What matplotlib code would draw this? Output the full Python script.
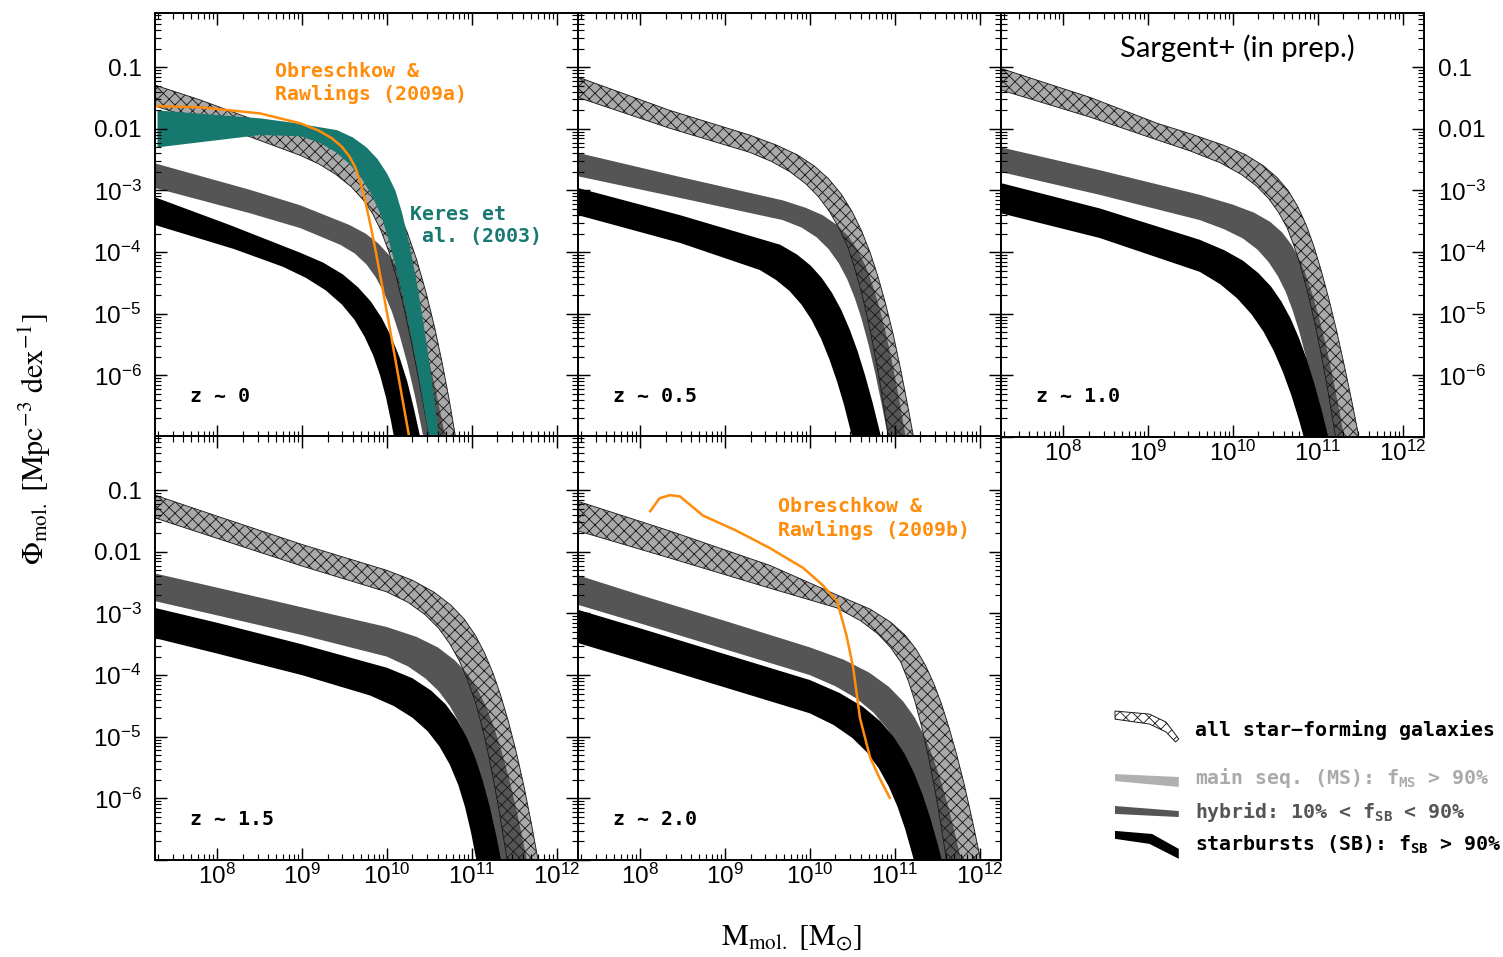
import numpy as np
import matplotlib
matplotlib.use("Agg")
import matplotlib.pyplot as plt
from matplotlib.ticker import LogLocator, NullFormatter
from matplotlib.legend_handler import HandlerBase
from matplotlib.patches import Polygon, Patch
from matplotlib.font_manager import FontProperties

# ---------------------------------------------------------------------------
# Molecular gas mass functions (log10 M_mol [Msun], log10 Phi [Mpc^-3 dex^-1])
# Each band is given by its upper ("hi") and lower ("lo") envelope.
# ---------------------------------------------------------------------------
redshift_labels = ["z ~ 0", "z ~ 0.5", "z ~ 1.0", "z ~ 1.5", "z ~ 2.0"]

# z ~ 0
sf_z00_hi_m = [7.27, 7.80, 8.39, 8.98, 9.30, 9.55, 9.75, 9.90, 10.02, 10.13, 10.24, 10.35, 10.46, 10.56, 10.65, 10.73, 10.81]
sf_z00_hi_phi = [-1.29, -1.53, -1.83, -2.10, -2.26, -2.42, -2.62, -2.83, -3.06, -3.33, -3.68, -4.12, -4.65, -5.21, -5.79, -6.37, -7.01]
sf_z00_lo_m = [7.27, 7.80, 8.39, 8.98, 9.20, 9.40, 9.58, 9.72, 9.83, 9.93, 10.02, 10.11, 10.20, 10.29, 10.38, 10.46, 10.50]
sf_z00_lo_phi = [-1.63, -1.86, -2.13, -2.43, -2.57, -2.74, -2.94, -3.15, -3.37, -3.65, -3.98, -4.40, -4.90, -5.47, -6.10, -6.70, -7.00]
hy_z00_hi_m = [7.27, 8.39, 8.98, 9.56, 9.75, 9.90, 10.02, 10.12, 10.22, 10.31, 10.40, 10.49, 10.58, 10.67, 10.69]
hy_z00_hi_phi = [-2.56, -2.99, -3.24, -3.56, -3.70, -3.86, -4.04, -4.25, -4.53, -4.86, -5.26, -5.73, -6.27, -6.88, -7.02]
hy_z00_lo_m = [7.27, 8.39, 8.98, 9.45, 9.62, 9.76, 9.87, 9.97, 10.06, 10.15, 10.24, 10.33, 10.43]
hy_z00_lo_phi = [-2.96, -3.37, -3.61, -3.88, -4.02, -4.20, -4.41, -4.67, -4.97, -5.35, -5.80, -6.33, -7.00]
sb_z00_hi_m = [7.27, 8.15, 8.98, 9.25, 9.48, 9.66, 9.81, 9.94, 10.05, 10.15, 10.24, 10.32, 10.40]
sb_z00_hi_phi = [-3.11, -3.56, -4.01, -4.17, -4.36, -4.57, -4.80, -5.07, -5.37, -5.71, -6.10, -6.55, -7.05]
sb_z00_lo_m = [7.27, 8.20, 8.78, 9.05, 9.28, 9.47, 9.62, 9.74, 9.84, 9.92, 9.99, 10.05, 10.09]
sb_z00_lo_phi = [-3.56, -3.95, -4.24, -4.42, -4.62, -4.85, -5.10, -5.38, -5.68, -6.00, -6.36, -6.75, -7.05]

# z ~ 0.5
sf_z05_hi_m = [7.27, 8.35, 9.29, 9.60, 9.85, 10.05, 10.22, 10.37, 10.50, 10.61, 10.71, 10.80, 10.89, 10.98, 11.07, 11.16, 11.22]
sf_z05_hi_phi = [-1.16, -1.70, -2.10, -2.26, -2.42, -2.60, -2.81, -3.06, -3.35, -3.66, -4.01, -4.39, -4.83, -5.33, -5.91, -6.55, -7.00]
sf_z05_lo_m = [7.27, 8.35, 9.29, 9.55, 9.77, 9.95, 10.10, 10.23, 10.35, 10.45, 10.53, 10.61, 10.68, 10.75, 10.82, 10.89, 10.925]
sf_z05_lo_phi = [-1.49, -1.99, -2.38, -2.53, -2.70, -2.89, -3.10, -3.34, -3.63, -3.93, -4.27, -4.67, -5.08, -5.55, -6.08, -6.68, -7.00]
hy_z05_hi_m = [7.27, 8.47, 9.68, 9.95, 10.15, 10.32, 10.45, 10.56, 10.65, 10.73, 10.81, 10.89, 10.97, 11.05, 11.13]
hy_z05_hi_phi = [-2.39, -2.78, -3.16, -3.28, -3.40, -3.56, -3.74, -3.96, -4.21, -4.50, -4.86, -5.29, -5.80, -6.38, -7.02]
hy_z05_lo_m = [7.27, 8.47, 9.68, 9.90, 10.08, 10.22, 10.34, 10.44, 10.53, 10.61, 10.69, 10.77, 10.85, 10.92]
hy_z05_lo_phi = [-2.77, -3.12, -3.48, -3.60, -3.76, -3.95, -4.18, -4.44, -4.75, -5.09, -5.50, -5.97, -6.50, -7.00]
sb_z05_hi_m = [7.27, 8.47, 9.65, 9.85, 10.01, 10.14, 10.26, 10.37, 10.47, 10.56, 10.65, 10.74, 10.84]
sb_z05_hi_phi = [-2.96, -3.40, -3.88, -4.04, -4.22, -4.42, -4.66, -4.94, -5.26, -5.60, -6.00, -6.45, -7.01]
sb_z05_lo_m = [7.27, 8.47, 9.41, 9.60, 9.76, 9.90, 10.02, 10.13, 10.23, 10.32, 10.40, 10.48, 10.50]
sb_z05_lo_phi = [-3.40, -3.85, -4.29, -4.45, -4.63, -4.85, -5.10, -5.40, -5.74, -6.10, -6.47, -6.90, -7.01]

# z ~ 1.0
sf_z10_hi_m = [7.27, 8.32, 9.11, 9.50, 9.88, 10.15, 10.36, 10.52, 10.65, 10.76, 10.86, 10.95, 11.04, 11.13, 11.22, 11.31, 11.40, 11.485]
sf_z10_hi_phi = [-1.02, -1.49, -1.91, -2.08, -2.26, -2.42, -2.60, -2.79, -3.00, -3.25, -3.55, -3.89, -4.30, -4.76, -5.27, -5.83, -6.42, -7.01]
sf_z10_lo_m = [7.27, 8.32, 9.11, 9.50, 9.85, 10.10, 10.28, 10.42, 10.54, 10.64, 10.72, 10.80, 10.88, 10.96, 11.04, 11.12, 11.21]
sf_z10_lo_phi = [-1.37, -1.81, -2.18, -2.36, -2.55, -2.74, -2.93, -3.13, -3.36, -3.61, -3.90, -4.24, -4.65, -5.12, -5.66, -6.26, -7.01]
hy_z10_hi_m = [7.27, 8.43, 9.61, 10.00, 10.25, 10.44, 10.58, 10.69, 10.78, 10.86, 10.94, 11.02, 11.10, 11.18, 11.26, 11.31]
hy_z10_hi_phi = [-2.30, -2.67, -3.07, -3.23, -3.36, -3.51, -3.68, -3.88, -4.11, -4.37, -4.70, -5.09, -5.54, -6.05, -6.62, -7.00]
hy_z10_lo_m = [7.27, 8.43, 9.61, 9.90, 10.12, 10.29, 10.42, 10.53, 10.62, 10.70, 10.78, 10.86, 10.94, 11.02, 11.06]
hy_z10_lo_phi = [-2.70, -3.07, -3.48, -3.63, -3.78, -3.96, -4.16, -4.39, -4.64, -4.93, -5.28, -5.70, -6.18, -6.73, -7.02]
sb_z10_hi_m = [7.27, 8.43, 9.61, 9.90, 10.12, 10.30, 10.45, 10.57, 10.68, 10.78, 10.87, 10.96, 11.05, 11.125]
sb_z10_hi_phi = [-2.88, -3.29, -3.80, -3.97, -4.14, -4.34, -4.56, -4.80, -5.08, -5.40, -5.74, -6.14, -6.59, -7.01]
sb_z10_lo_m = [7.27, 8.43, 9.61, 9.85, 10.05, 10.22, 10.36, 10.48, 10.59, 10.69, 10.78, 10.84]
sb_z10_lo_phi = [-3.37, -3.77, -4.32, -4.52, -4.75, -5.01, -5.29, -5.60, -5.95, -6.33, -6.73, -7.03]

# z ~ 1.5
sf_z15_hi_m = [7.27, 8.0, 9.0, 10.0, 10.30, 10.55, 10.75, 10.91, 11.04, 11.15, 11.25, 11.34, 11.43, 11.52, 11.61, 11.70, 11.78]
sf_z15_hi_phi = [-1.08, -1.42, -1.88, -2.30, -2.46, -2.65, -2.86, -3.09, -3.35, -3.64, -3.97, -4.33, -4.75, -5.23, -5.78, -6.40, -7.00]
sf_z15_lo_m = [7.27, 8.0, 9.0, 10.0, 10.25, 10.45, 10.61, 10.74, 10.85, 10.95, 11.04, 11.11, 11.18, 11.25, 11.32, 11.39, 11.415]
sf_z15_lo_phi = [-1.45, -1.78, -2.23, -2.65, -2.82, -3.02, -3.24, -3.49, -3.76, -4.08, -4.43, -4.78, -5.19, -5.66, -6.19, -6.78, -7.00]
hy_z15_hi_m = [7.27, 8.0, 9.0, 10.0, 10.35, 10.60, 10.80, 10.95, 11.07, 11.17, 11.26, 11.35, 11.44, 11.53, 11.62, 11.65]
hy_z15_hi_phi = [-2.35, -2.58, -2.90, -3.22, -3.38, -3.55, -3.76, -3.98, -4.24, -4.52, -4.84, -5.23, -5.69, -6.21, -6.80, -7.00]
hy_z15_lo_m = [7.27, 8.0, 9.0, 10.0, 10.25, 10.45, 10.61, 10.74, 10.85, 10.95, 11.04, 11.13, 11.22, 11.31, 11.34]
hy_z15_lo_phi = [-2.80, -3.03, -3.35, -3.70, -3.86, -4.05, -4.26, -4.50, -4.77, -5.08, -5.42, -5.83, -6.30, -6.83, -7.02]
sb_z15_hi_m = [7.27, 8.0, 9.0, 10.0, 10.30, 10.52, 10.69, 10.83, 10.94, 11.04, 11.13, 11.21, 11.29, 11.35]
sb_z15_hi_phi = [-2.91, -3.15, -3.50, -3.88, -4.05, -4.25, -4.47, -4.73, -5.01, -5.34, -5.72, -6.13, -6.62, -7.04]
sb_z15_lo_m = [7.27, 8.0, 9.0, 9.8, 10.08, 10.30, 10.48, 10.62, 10.74, 10.84, 10.92, 10.99, 11.055]
sb_z15_lo_phi = [-3.40, -3.65, -4.00, -4.33, -4.50, -4.69, -4.91, -5.16, -5.45, -5.78, -6.14, -6.55, -7.01]

# z ~ 2.0
sf_z20_hi_m = [7.27, 8.35, 9.53, 10.32, 10.71, 10.95, 11.12, 11.25, 11.36, 11.46, 11.55, 11.64, 11.73, 11.82, 11.91, 12.01]
sf_z20_hi_phi = [-1.18, -1.66, -2.22, -2.70, -2.93, -3.14, -3.35, -3.58, -3.84, -4.14, -4.47, -4.86, -5.30, -5.79, -6.34, -7.00]
sf_z20_lo_m = [7.27, 8.35, 9.53, 10.32, 10.60, 10.80, 10.95, 11.07, 11.16, 11.24, 11.32, 11.40, 11.47, 11.54, 11.61]
sf_z20_lo_phi = [-1.66, -2.10, -2.59, -2.91, -3.12, -3.33, -3.55, -3.79, -4.10, -4.44, -4.86, -5.35, -5.84, -6.40, -7.02]
hy_z20_hi_m = [7.27, 8.0, 9.0, 10.0, 10.40, 10.70, 10.93, 11.10, 11.23, 11.34, 11.44, 11.53, 11.62, 11.71, 11.78]
hy_z20_hi_phi = [-2.38, -2.70, -3.12, -3.55, -3.75, -3.96, -4.19, -4.43, -4.68, -4.97, -5.30, -5.66, -6.09, -6.58, -7.00]
hy_z20_lo_m = [7.27, 8.0, 9.0, 10.0, 10.30, 10.55, 10.75, 10.91, 11.04, 11.15, 11.25, 11.34, 11.43, 11.50]
hy_z20_lo_phi = [-2.86, -3.16, -3.58, -4.00, -4.18, -4.38, -4.61, -4.87, -5.15, -5.47, -5.83, -6.21, -6.66, -7.05]
sb_z20_hi_m = [7.27, 8.0, 9.0, 10.0, 10.35, 10.62, 10.83, 10.99, 11.12, 11.23, 11.33, 11.42, 11.51, 11.555]
sb_z20_hi_phi = [-2.94, -3.24, -3.66, -4.08, -4.29, -4.51, -4.75, -5.01, -5.29, -5.60, -5.95, -6.33, -6.77, -7.01]
sb_z20_lo_m = [7.27, 8.0, 9.0, 10.0, 10.28, 10.50, 10.67, 10.81, 10.93, 11.03, 11.12, 11.21, 11.225]
sb_z20_lo_phi = [-3.48, -3.78, -4.20, -4.62, -4.81, -5.02, -5.25, -5.51, -5.81, -6.13, -6.49, -6.93, -7.01]

# Keres et al. (2003) local CO-based mass function
keres_hi_m = [7.30, 8.51, 8.89, 9.41, 9.60, 9.76, 9.89, 10.00, 10.10, 10.18, 10.26, 10.34, 10.41, 10.48, 10.54, 10.60, 10.615]
keres_hi_phi = [-1.70, -1.83, -1.90, -2.02, -2.14, -2.30, -2.49, -2.72, -3.00, -3.37, -3.84, -4.40, -4.97, -5.60, -6.20, -6.85, -7.02]
keres_lo_m = [7.30, 8.51, 8.98, 9.20, 9.40, 9.56, 9.70, 9.82, 9.93, 10.02, 10.11, 10.20, 10.28, 10.36, 10.44, 10.50]
keres_lo_phi = [-2.30, -2.10, -2.12, -2.22, -2.38, -2.57, -2.80, -3.07, -3.40, -3.80, -4.26, -4.79, -5.32, -5.90, -6.54, -7.03]

# Obreschkow & Rawlings (2009a, 2009b) model curves
or09a_m = [7.27, 7.80, 8.51, 8.98, 9.20, 9.35, 9.47, 9.56, 9.63, 9.69, 9.75, 9.81, 9.87, 9.94, 10.01, 10.08, 10.15, 10.22, 10.26]
or09a_phi = [-1.63, -1.65, -1.75, -1.91, -2.03, -2.15, -2.29, -2.45, -2.63, -2.88, -3.20, -3.58, -4.00, -4.52, -5.05, -5.59, -6.13, -6.67, -6.98]
or09b_m = [8.12, 8.23, 8.35, 8.47, 8.74, 9.14, 9.53, 9.92, 10.15, 10.32, 10.43, 10.51, 10.59, 10.71, 10.82, 10.94]
or09b_phi = [-1.34, -1.13, -1.08, -1.10, -1.41, -1.66, -1.94, -2.26, -2.54, -2.80, -3.35, -3.88, -4.70, -5.34, -5.67, -5.99]

# Axis ticks
mass_ticks = [1e8, 1e9, 1e10, 1e11, 1e12]
mass_tick_labels = [r"$\mathdefault{10^{8}}$", r"$\mathdefault{10^{9}}$", r"$\mathdefault{10^{10}}$",
                    r"$\mathdefault{10^{11}}$", r"$\mathdefault{10^{12}}$"]
phi_ticks = [1e-7, 1e-6, 1e-5, 1e-4, 1e-3, 1e-2, 1e-1]
phi_tick_labels = ["", r"$\mathdefault{10^{-6}}$", r"$\mathdefault{10^{-5}}$", r"$\mathdefault{10^{-4}}$",
                   r"$\mathdefault{10^{-3}}$", "0.01", "0.1"]

# ---------------------------------------------------------------------------
# Styling
# ---------------------------------------------------------------------------
DPI = 70
plt.rcParams["font.family"] = "Liberation Sans"
plt.rcParams["mathtext.fontset"] = "stix"
plt.rcParams["hatch.linewidth"] = 0.9
plt.rcParams["hatch.color"] = "#1a1a1a"

LIGHT = "#a9a9a9"
DARK = "#555555"
HATCH = "#1a1a1a"
ORANGE = "#ff8c0a"
TEAL = "#17786f"
MONO = FontProperties(family="DejaVu Sans Mono", weight="bold", size=20.5)

fig = plt.figure(figsize=(1503 / DPI, 957 / DPI), dpi=DPI)
W, H = 1503.0, 957.0
pw, ph = 423 / W, 424 / H
col_x = [155 / W, 578 / W, 1001 / W]
row_y = [1 - 437 / H, 1 - 860 / H]


def band(ax, hi_m, hi_phi, lo_m, lo_phi, **kw):
    m = np.concatenate([np.asarray(hi_m), np.asarray(lo_m)[::-1]])
    phi = np.concatenate([np.asarray(hi_phi), np.asarray(lo_phi)[::-1]])
    return ax.fill(10.0 ** m, 10.0 ** phi, **kw)


def setup_axes(ax, left=False, right=False, bottom=False):
    ax.set_xscale("log")
    ax.set_yscale("log")
    ax.set_xlim(10 ** 7.27, 10 ** 12.25)
    ax.set_ylim(1e-7, 10 ** -0.12)
    ax.set_xticks(mass_ticks, labels=mass_tick_labels)
    ax.set_yticks(phi_ticks, labels=phi_tick_labels)
    ax.xaxis.set_minor_locator(LogLocator(base=10, subs=np.arange(2, 10), numticks=100))
    ax.yaxis.set_minor_locator(LogLocator(base=10, subs=np.arange(2, 10), numticks=100))
    ax.xaxis.set_minor_formatter(NullFormatter())
    ax.yaxis.set_minor_formatter(NullFormatter())
    ax.tick_params(which="both", direction="in", top=True, right=True, bottom=True, left=True,
                   labelleft=left, labelright=right, labelbottom=bottom, labeltop=False,
                   labelsize=25, colors="black")
    ax.tick_params(which="major", length=12, width=1.5)
    ax.tick_params(which="minor", length=6, width=1.2)
    ax.tick_params(axis="y", pad=14)
    ax.tick_params(axis="x", pad=4)
    ax.set_axisbelow(False)
    for s in ax.spines.values():
        s.set_linewidth(2.0)


def draw_bands(ax, sf, hy, sb):
    band(ax, *sf, facecolor=LIGHT, edgecolor="none", zorder=1.0)
    band(ax, *hy, facecolor=DARK, edgecolor="none", zorder=1.1)
    band(ax, *sb, facecolor="black", edgecolor="none", zorder=1.2)
    band(ax, *sf, facecolor="none", edgecolor=HATCH, hatch="xx", linewidth=0.9, zorder=1.3)


panels = [
    (col_x[0], row_y[0], dict(left=True),
     (sf_z00_hi_m, sf_z00_hi_phi, sf_z00_lo_m, sf_z00_lo_phi),
     (hy_z00_hi_m, hy_z00_hi_phi, hy_z00_lo_m, hy_z00_lo_phi),
     (sb_z00_hi_m, sb_z00_hi_phi, sb_z00_lo_m, sb_z00_lo_phi)),
    (col_x[1], row_y[0], dict(),
     (sf_z05_hi_m, sf_z05_hi_phi, sf_z05_lo_m, sf_z05_lo_phi),
     (hy_z05_hi_m, hy_z05_hi_phi, hy_z05_lo_m, hy_z05_lo_phi),
     (sb_z05_hi_m, sb_z05_hi_phi, sb_z05_lo_m, sb_z05_lo_phi)),
    (col_x[2], row_y[0], dict(right=True, bottom=True),
     (sf_z10_hi_m, sf_z10_hi_phi, sf_z10_lo_m, sf_z10_lo_phi),
     (hy_z10_hi_m, hy_z10_hi_phi, hy_z10_lo_m, hy_z10_lo_phi),
     (sb_z10_hi_m, sb_z10_hi_phi, sb_z10_lo_m, sb_z10_lo_phi)),
    (col_x[0], row_y[1], dict(left=True, bottom=True),
     (sf_z15_hi_m, sf_z15_hi_phi, sf_z15_lo_m, sf_z15_lo_phi),
     (hy_z15_hi_m, hy_z15_hi_phi, hy_z15_lo_m, hy_z15_lo_phi),
     (sb_z15_hi_m, sb_z15_hi_phi, sb_z15_lo_m, sb_z15_lo_phi)),
    (col_x[1], row_y[1], dict(bottom=True),
     (sf_z20_hi_m, sf_z20_hi_phi, sf_z20_lo_m, sf_z20_lo_phi),
     (hy_z20_hi_m, hy_z20_hi_phi, hy_z20_lo_m, hy_z20_lo_phi),
     (sb_z20_hi_m, sb_z20_hi_phi, sb_z20_lo_m, sb_z20_lo_phi)),
]

axes = []
for (x0, y0, lab, sf, hy, sb), zlab in zip(panels, redshift_labels):
    ax = fig.add_axes([x0, y0, pw, ph])
    setup_axes(ax, **lab)
    draw_bands(ax, sf, hy, sb)
    ax.text(0.083, 0.096, zlab, transform=ax.transAxes, ha="left", va="center",
            fontproperties=MONO, color="black")
    axes.append(ax)

ax0, ax1, ax2, ax3, ax4 = axes

# Literature comparisons
band(ax0, keres_hi_m, keres_hi_phi, keres_lo_m, keres_lo_phi,
     facecolor=TEAL, edgecolor="none", zorder=1.4)
ax0.plot(10.0 ** np.asarray(or09a_m), 10.0 ** np.asarray(or09a_phi), color=ORANGE, lw=2.6, zorder=2.2)
ax4.plot(10.0 ** np.asarray(or09b_m), 10.0 ** np.asarray(or09b_phi), color=ORANGE, lw=2.6, zorder=2.2)

ax0.text(0.284, 0.885, "Obreschkow &\nRawlings (2009a)", transform=ax0.transAxes,
         ha="left", va="top", color=ORANGE, fontproperties=MONO, linespacing=1.2)
ax0.text(0.603, 0.548, "Keres et\n al. (2003)", transform=ax0.transAxes,
         ha="left", va="top", color=TEAL, fontproperties=MONO, linespacing=1.2)
ax4.text(0.473, 0.855, "Obreschkow &\nRawlings (2009b)", transform=ax4.transAxes,
         ha="left", va="top", color=ORANGE, fontproperties=MONO, linespacing=1.2)
ax2.text(0.558, 0.918, "Sargent+ (in prep.)", transform=ax2.transAxes,
         ha="center", va="center", fontsize=30, family="Lato", color="black")

# Axis titles
fig.text(0.0233, 0.5413, r"$\Phi_{\rm mol.}\ [{\rm Mpc}^{-3}\ {\rm dex}^{-1}]$",
         rotation=90, ha="center", va="center", fontsize=31)
fig.text(0.527, 0.0199, r"$\rm M_{mol.}\ [M_{\odot}]$", ha="center", va="center", fontsize=31)


# ---------------------------------------------------------------------------
# Legend with slanted band swatches
# ---------------------------------------------------------------------------
class HandlerShape(HandlerBase):
    def __init__(self, outline):
        super().__init__()
        self.outline = outline

    def create_artists(self, legend, orig_handle, xdescent, ydescent, width, height, fontsize, trans):
        verts = [(-xdescent + u * width, -ydescent + v * height) for u, v in self.outline]
        poly = Polygon(verts, closed=True)
        self.update_prop(poly, orig_handle, legend)
        poly.set_transform(trans)
        return [poly]


legend_rows = [
    (Patch(facecolor="white", edgecolor=HATCH, hatch="xx", linewidth=1.0),
     "all star\u2212forming galaxies", "black", 1 - 730 / H,
     [(0, 1.79), (0.54, 1.57), (0.8, 1.0), (1.0, -0.21), (0.95, -0.43), (0.8, 0.29), (0.54, 0.86), (0, 1.21)]),
    (Patch(facecolor="#b0b0b0", edgecolor="none"),
     r"main seq. (MS): $\mathdefault{f_{MS}}$ > 90%", "#aaaaaa", 1 - 778 / H,
     [(0, 0.71), (1, 0.5), (1, -0.21), (0, 0.21)]),
    (Patch(facecolor=DARK, edgecolor="none"),
     r"hybrid: 10% < $\mathdefault{f_{SB}}$ < 90%", "#555555", 1 - 812 / H,
     [(0, 0.86), (1, 0.5), (1, 0.07), (0, 0.29)]),
    (Patch(facecolor="black", edgecolor="none"),
     r"starbursts (SB): $\mathdefault{f_{SB}}$ > 90%", "black", 1 - 845 / H,
     [(0, 1.43), (0.58, 1.21), (1, 0.14), (1, -0.57), (0.54, 0.5), (0, 0.86)]),
]
for handle, label, color, ypos, outline in legend_rows:
    fig.legend(handles=[handle], labels=[label], loc="center left",
               bbox_to_anchor=(1115 / W, ypos), frameon=False, borderpad=0, borderaxespad=0,
               handlelength=3.2, handleheight=0.7, handletextpad=0.8, prop=MONO,
               labelcolor=color, handler_map={handle: HandlerShape(outline)})

fig.savefig("out.png", dpi=DPI)
